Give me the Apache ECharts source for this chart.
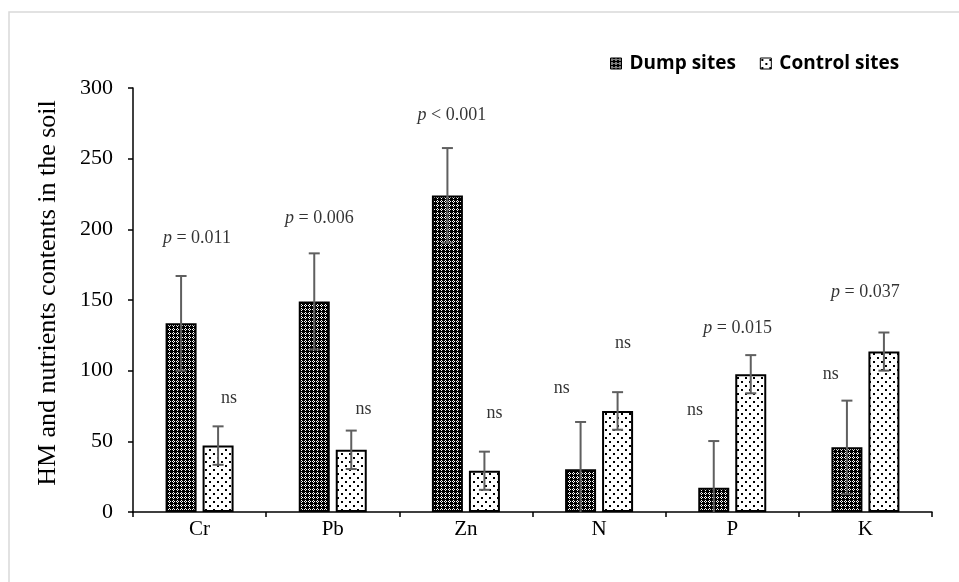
<!DOCTYPE html>
<html>
<head>
<meta charset="utf-8">
<script src="https://cdn.jsdelivr.net/npm/echarts@6/dist/echarts.min.js"></script>
<style>
html,body{margin:0;padding:0;background:#fff;}
#chart{width:959px;height:582px;}
</style>
</head>
<body>
<div id="chart"></div>
<script>
// ---- data ----
const categories = ['Cr', 'Pb', 'Zn', 'N', 'P', 'K'];
const dumpValues = [133.5, 149, 224, 30.2, 17.2, 45.8];
const dumpErr = [33.5, 34, 33.5, 33.5, 33, 33];
const controlValues = [47, 44, 29.2, 71.5, 97.5, 113.5];
const controlErr = [13.6, 13.6, 13.5, 13.3, 13.5, 13.5];
const yTicks = [0, 50, 100, 150, 200, 250, 300];
// annotation texts with their anchor (x in category units, y in data units)
const annotTexts = ['p = 0.011', 'ns', 'p = 0.006', 'ns', 'p < 0.001', 'ns', 'ns', 'ns', 'ns', 'p = 0.015', 'ns', 'p = 0.037'];
const annotX = [0.48, 0.72, 1.40, 1.73, 2.395, 2.715, 3.22, 3.68, 4.22, 4.54, 5.24, 5.50];
const annotY = [193.9, 80.7, 208, 72.9, 280.9, 70, 87.7, 119.6, 72.2, 130.2, 97.6, 155.7];

// ---- patterns ----
function dumpPattern() {
  const c = document.createElement('canvas');
  c.width = 4; c.height = 4;
  const g = c.getContext('2d');
  g.fillStyle = '#000'; g.fillRect(0, 0, 4, 4);
  g.fillStyle = '#fff';
  g.fillRect(1, 0, 1, 1); g.fillRect(0, 1, 1, 1);
  g.fillRect(2, 1, 1, 1); g.fillRect(1, 2, 1, 1);
  return c;
}
function controlPattern() {
  const c = document.createElement('canvas');
  c.width = 8; c.height = 8;
  const g = c.getContext('2d');
  g.fillStyle = '#fff'; g.fillRect(0, 0, 8, 8);
  g.fillStyle = '#000';
  g.fillRect(1, 1, 2, 2); g.fillRect(5, 5, 2, 2);
  return c;
}
const dumpFill = { image: dumpPattern(), repeat: 'repeat' };
const controlFill = { image: controlPattern(), repeat: 'repeat' };

const BAR_W = 31, BAR_GAP = 6;
const offset = (BAR_W + BAR_GAP) / 2;

function errSeries(values, errs, sign) {
  return {
    type: 'custom',
    clip: true,
    silent: true,
    z: 5,
    data: values.map((v, i) => [i, v - errs[i], v + errs[i]]),
    renderItem: function (params, api) {
      const lo = api.coord([api.value(0), api.value(1)]);
      const hi = api.coord([api.value(0), api.value(2)]);
      const x = lo[0] + sign * offset;
      const cap = 5.5;
      const st = { stroke: '#5f5f5f', lineWidth: 2 };
      return {
        type: 'group',
        children: [
          { type: 'line', shape: { x1: x, y1: hi[1], x2: x, y2: lo[1] }, style: st },
          { type: 'line', shape: { x1: x - cap, y1: hi[1], x2: x + cap, y2: hi[1] }, style: st },
          { type: 'line', shape: { x1: x - cap, y1: lo[1], x2: x + cap, y2: lo[1] }, style: st }
        ]
      };
    }
  };
}

const chart = echarts.init(document.getElementById('chart'), null, { renderer: 'canvas' });
const serif = 'Liberation Serif, Times New Roman, serif';

chart.setOption({
  animation: false,
  backgroundColor: '#fff',
  graphic: [{
    type: 'rect',
    shape: { x: 9, y: 12, width: 980, height: 600 },
    style: { fill: 'none', stroke: '#d9d9d9', lineWidth: 1.5 },
    z: -1
  }],
  legend: {
    left: 605,
    top: 49,
    itemWidth: 11,
    itemHeight: 11,
    itemGap: 24,
    icon: 'rect',
    data: ['Dump sites', 'Control sites'],
    itemStyle: { borderColor: '#000', borderWidth: 1 },
    textStyle: { fontFamily: 'Open Sans', fontWeight: 'bold', fontSize: 19, color: '#000', padding: [0, 0, 0, 3] }
  },
  grid: { left: 133, right: 27, top: 88, bottom: 70, containLabel: false },
  xAxis: [{
    type: 'category',
    data: categories,
    axisLine: { lineStyle: { color: '#000', width: 1.5 } },
    axisTick: { show: true, length: 5, lineStyle: { color: '#000', width: 1.5 } },
    axisLabel: { color: '#000', fontFamily: serif, fontSize: 21, margin: 7 },
    splitLine: { show: false }
  }, {
    type: 'value',
    min: 0, max: categories.length,
    show: false
  }],
  yAxis: {
    type: 'value',
    min: yTicks[0], max: yTicks[yTicks.length - 1], interval: 50,
    name: 'HM and nutrients contents in the soil',
    nameLocation: 'middle',
    nameGap: 72,
    nameTextStyle: { color: '#000', fontFamily: serif, fontSize: 26, padding: [0, 0, 0, 14] },
    axisLine: { show: true, lineStyle: { color: '#000', width: 1.5 } },
    axisTick: { show: true, length: 5, lineStyle: { color: '#000', width: 1.5 } },
    axisLabel: { color: '#000', fontFamily: serif, fontSize: 22, margin: 20 },
    splitLine: { show: false }
  },
  series: [{
    name: 'Dump sites',
    type: 'bar',
    data: dumpValues,
    barWidth: BAR_W,
    barGap: (BAR_GAP / BAR_W * 100) + '%',
    itemStyle: { color: dumpFill, borderColor: '#000', borderWidth: 2 }
  }, {
    name: 'Control sites',
    type: 'bar',
    data: controlValues,
    barWidth: BAR_W,
    itemStyle: { color: controlFill, borderColor: '#000', borderWidth: 2 }
  },
  errSeries(dumpValues, dumpErr, -1),
  errSeries(controlValues, controlErr, 1),
  {
    type: 'scatter',
    xAxisIndex: 1,
    symbolSize: 0,
    silent: true,
    data: annotTexts.map((t, i) => ({ value: [annotX[i], annotY[i]], name: t })),
    label: {
      show: true,
      position: 'inside',
      color: '#000',
      fontFamily: serif,
      fontSize: 18,
      formatter: function (p) {
        const t = p.name;
        if (t.charAt(0) === 'p') return '{i|p}' + t.slice(1);
        return t;
      },
      rich: { i: { fontStyle: 'italic', fontFamily: serif, fontSize: 18, color: '#000' } }
    }
  }]
});
</script>
</body>
</html>
